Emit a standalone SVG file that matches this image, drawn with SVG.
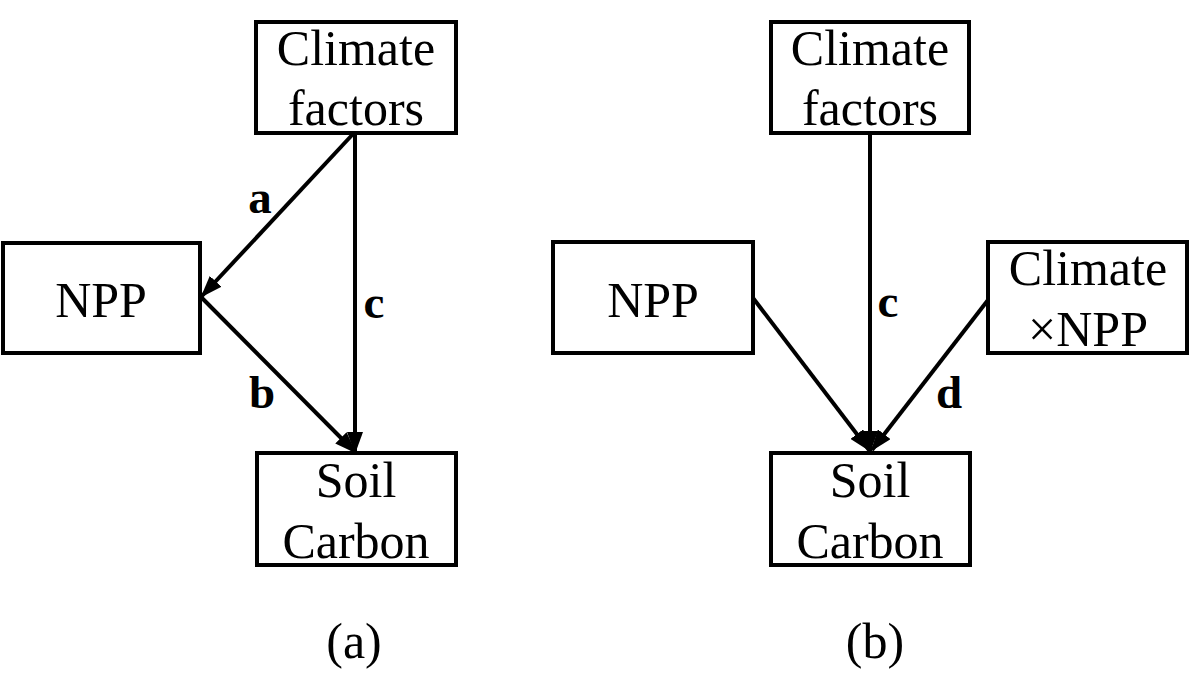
<svg xmlns="http://www.w3.org/2000/svg" width="1200" height="688" viewBox="0 0 1200 688">
<style>
.box{fill:#fff;stroke:#000;stroke-width:4}
.t{font-family:'Liberation Serif','Times New Roman','DejaVu Serif',serif;font-size:50px;fill:#000;text-anchor:middle}
.lb{font-family:'Liberation Serif','Times New Roman','DejaVu Serif',serif;font-size:47px;font-weight:bold;fill:#000;text-anchor:middle}
.edge{stroke:#000;stroke-width:4;fill:none;marker-end:url(#ah)}
</style>
<defs>
<marker id="ah" markerUnits="userSpaceOnUse" markerWidth="22" markerHeight="16" refX="20" refY="8" orient="auto">
<path d="M0,0 L22,8 L0,16 z" fill="#000"/>
</marker>
</defs>
<rect width="1200" height="688" fill="#fff"/>
<g id="connectors">
<line class="edge" x1="353" y1="134" x2="202" y2="296"/>
<line class="edge" x1="201" y1="297" x2="355" y2="452"/>
<line class="edge" x1="355" y1="134" x2="355" y2="452"/>
<line class="edge" x1="753" y1="298" x2="869" y2="450"/>
<line class="edge" x1="870" y1="134" x2="870" y2="451"/>
<line class="edge" x1="988" y1="300" x2="872" y2="450"/>
</g>
<g id="labels">
<text class="lb" x="260" y="213">a</text>
<text class="lb" x="262" y="408">b</text>
<text class="lb" x="374" y="318">c</text>
<text class="lb" x="888" y="317">c</text>
<text class="lb" x="949" y="408">d</text>
</g>
<g id="a-climate">
<rect class="box" x="256" y="22" width="200" height="111"/>
<text class="t" x="356" y="65">Climate</text>
<text class="t" x="356" y="125">factors</text>
</g>
<g id="a-npp">
<rect class="box" x="3" y="243" width="197" height="110"/>
<text class="t" x="101" y="317">NPP</text>
</g>
<g id="a-soil">
<rect class="box" x="257" y="453" width="199" height="112"/>
<text class="t" x="356" y="497">Soil</text>
<text class="t" x="356" y="558">Carbon</text>
</g>
<g id="b-climate">
<rect class="box" x="771" y="22" width="198" height="111"/>
<text class="t" x="870" y="65">Climate</text>
<text class="t" x="870" y="125">factors</text>
</g>
<g id="b-npp">
<rect class="box" x="553" y="242" width="200" height="111"/>
<text class="t" x="653" y="317">NPP</text>
</g>
<g id="b-climnpp">
<rect class="box" x="988" y="242" width="199" height="111"/>
<text class="t" x="1088" y="285">Climate</text>
<text class="t" x="1088" y="346">×NPP</text>
</g>
<g id="b-soil">
<rect class="box" x="771" y="453" width="199" height="112"/>
<text class="t" x="870" y="497">Soil</text>
<text class="t" x="870" y="558">Carbon</text>
</g>
<g id="captions">
<text class="t" x="354" y="658">(a)</text>
<text class="t" x="875" y="658">(b)</text>
</g>
</svg>
